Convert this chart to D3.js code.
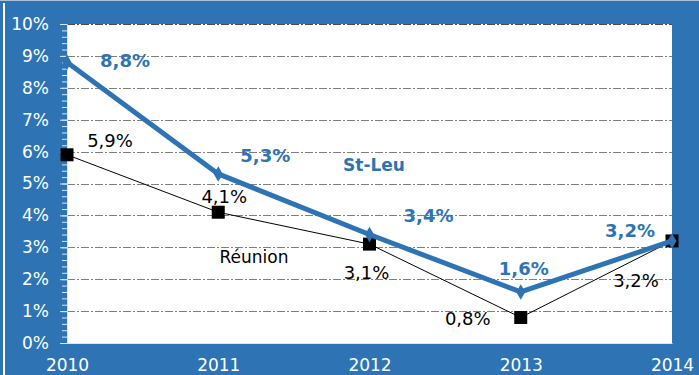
<!DOCTYPE html>
<html>
<head>
<meta charset="utf-8">
<script src="https://cdn.jsdelivr.net/npm/d3@7"></script>
<style>
  html, body { margin: 0; padding: 0; background: #2E74B5; }
  svg { display: block; }
  text { font-family: "DejaVu Sans", sans-serif; }
</style>
</head>
<body>
<svg id="chart" width="699" height="375"></svg>
<script>
// Unemployment-rate style series, 2010-2014
const years = ["2010", "2011", "2012", "2013", "2014"];
const stLeu = [8.8, 5.3, 3.4, 1.6, 3.2];
const reunion = [5.9, 4.1, 3.1, 0.8, 3.2];
const yTicks = [0, 1, 2, 3, 4, 5, 6, 7, 8, 9, 10];

const fmt = v => String(v.toFixed(1)).replace(".", ",") + "%";

// Label offsets (px) from each point: [dx, dy]
const stLeuLabelOffsets = [[58, 5], [47, -12], [59, -13], [3, -17], [-42, -4]];
const reunionLabelOffsets = [[43, -8], [6, -9], [-3, 35], [-53, 8], [-36, 46]];

const W = 699, H = 375;
const plot = { left: 67, right: 672, top: 24, bottom: 343 };
const blue = "#2E74B5";

const svg = d3.select("#chart");

// frame
svg.append("rect").attr("x", 0).attr("y", 0).attr("width", W).attr("height", H).attr("fill", blue);
svg.append("line").attr("x1", 0).attr("x2", W).attr("y1", 0.5).attr("y2", 0.5)
  .attr("stroke", "#a8c0dc").attr("stroke-width", 1);
svg.append("line").attr("x1", 4).attr("x2", 4).attr("y1", 3).attr("y2", H)
  .attr("stroke", "#ffffff").attr("stroke-width", 2);

// plot area
svg.append("rect")
  .attr("x", plot.left).attr("y", plot.top)
  .attr("width", plot.right - plot.left).attr("height", plot.bottom - plot.top)
  .attr("fill", "#ffffff");

const x = d3.scalePoint().domain(years).range([plot.left, plot.right]);
const y = d3.scaleLinear().domain([0, 10]).range([plot.bottom, plot.top]);

// gridlines (dash-dot)
svg.append("g").selectAll("line")
  .data(yTicks.filter(d => d > 0))
  .join("line")
  .attr("x1", plot.left).attr("x2", plot.right)
  .attr("y1", d => Math.round(y(d)) + 0.5).attr("y2", d => Math.round(y(d)) + 0.5)
  .attr("stroke", d => d === 10 ? "#4a4a4a" : "#808080")
  .attr("stroke-width", 1)
  .attr("stroke-dasharray", "8,2,2,2");

// y axis: minor ticks every 0.2, major ticks every 1
const minorVals = d3.range(0, 10.001, 0.2).map(v => +v.toFixed(1));
const minorAxis = svg.append("g")
  .attr("transform", `translate(${plot.left},0)`)
  .call(d3.axisLeft(y).tickValues(minorVals).tickSize(5).tickFormat(""));
minorAxis.select(".domain").remove();
minorAxis.selectAll("line").attr("stroke", "#dbe6f3");

const yAxis = svg.append("g")
  .attr("transform", `translate(${plot.left},0)`)
  .call(d3.axisLeft(y).tickValues(yTicks).tickSize(7).tickPadding(11).tickFormat(d => d + "%"));
yAxis.select(".domain").attr("stroke", "#dbe6f3");
yAxis.selectAll("line").attr("stroke", "#dbe6f3");
yAxis.selectAll("text").attr("fill", "#ffffff").attr("font-size", 17)
  .attr("font-family", "DejaVu Sans, sans-serif");

// x axis
const xAxis = svg.append("g")
  .attr("transform", `translate(0,${plot.bottom})`)
  .call(d3.axisBottom(x).tickSize(0).tickPadding(16));
xAxis.select(".domain").attr("stroke", "#dbe6f3");
xAxis.selectAll("text").attr("fill", "#ffffff").attr("font-size", 17)
  .attr("font-family", "DejaVu Sans, sans-serif");

const line = d3.line().x((d, i) => x(years[i])).y(d => y(d));

// Réunion series
svg.append("path").datum(reunion)
  .attr("d", line).attr("fill", "none").attr("stroke", "#000").attr("stroke-width", 1);
svg.append("g").selectAll("rect").data(reunion).join("rect")
  .attr("x", (d, i) => x(years[i]) - 6.5).attr("y", d => y(d) - 6.5)
  .attr("width", 13).attr("height", 13).attr("fill", "#000");

// St-Leu series
svg.append("path").datum(stLeu)
  .attr("d", line).attr("fill", "none").attr("stroke", blue)
  .attr("stroke-width", 5).attr("stroke-linejoin", "round");
svg.append("g").selectAll("path").data(stLeu).join("path")
  .attr("d", d3.symbol(d3.symbolDiamond, 70))
  .attr("transform", (d, i) => `translate(${x(years[i])},${y(d)})`)
  .attr("fill", blue);

// value labels
svg.append("g").selectAll("text").data(stLeu).join("text")
  .attr("x", (d, i) => x(years[i]) + stLeuLabelOffsets[i][0])
  .attr("y", (d, i) => y(d) + stLeuLabelOffsets[i][1])
  .attr("text-anchor", "middle").attr("font-size", 18).attr("font-weight", "bold")
  .attr("fill", blue).text(fmt);

svg.append("g").selectAll("text").data(reunion).join("text")
  .attr("x", (d, i) => x(years[i]) + reunionLabelOffsets[i][0])
  .attr("y", (d, i) => y(d) + reunionLabelOffsets[i][1])
  .attr("text-anchor", "middle").attr("font-size", 18)
  .attr("fill", "#000").text(fmt);

// series names
svg.append("text").attr("x", 374).attr("y", 171).attr("text-anchor", "middle")
  .attr("font-size", 17).attr("font-weight", "bold").attr("fill", blue).text("St-Leu");
svg.append("text").attr("x", 254).attr("y", 263).attr("text-anchor", "middle")
  .attr("font-size", 17).attr("fill", "#000").text("Réunion");
</script>
</body>
</html>
